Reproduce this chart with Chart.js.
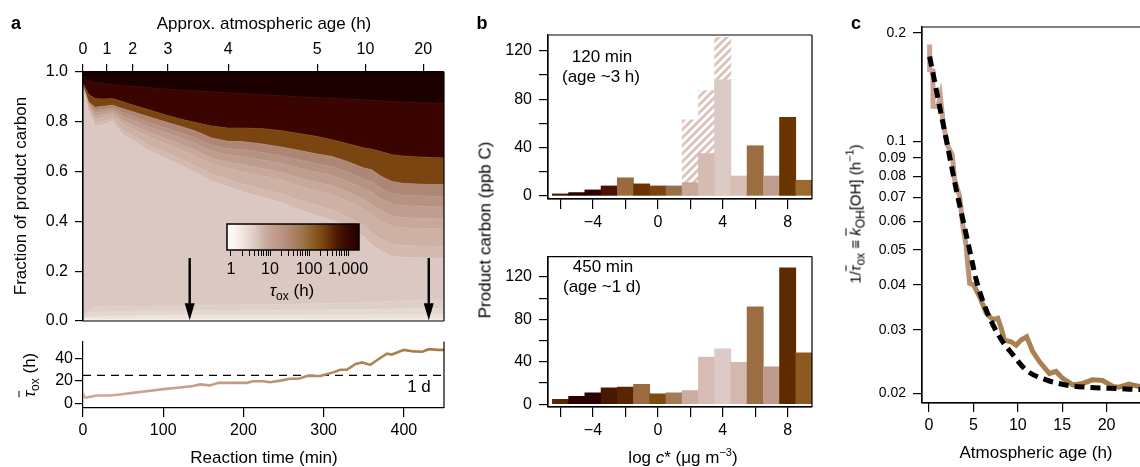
<!DOCTYPE html>
<html><head><meta charset="utf-8">
<script src="https://cdn.jsdelivr.net/npm/chart.js@4.4.1/dist/chart.umd.min.js"></script>
<style>
html,body{margin:0;padding:0;width:1140px;height:467px;overflow:hidden;background:#fff;font-family:'Liberation Sans',Arial,sans-serif;color:#000}
canvas{position:absolute}
.t{position:absolute;white-space:nowrap;transform:translate(-50%,-50%);font-size:17px;line-height:1}
.r{transform:translate(-50%,-50%) rotate(-90deg)}
.lt{position:absolute;font-weight:bold;font-size:18px;line-height:1;transform:translate(-50%,-50%)}
.sb{font-size:12px;position:relative;top:4px}
.sp{font-size:11px;position:relative;top:-7px}
.ov{font-style:italic;text-decoration:overline}
</style></head><body>
<canvas id="cA" width="460" height="340" style="left:0px;top:0px"></canvas>
<canvas id="cT" width="460" height="137" style="left:0px;top:330px"></canvas>
<canvas id="cBar" width="160" height="70" style="left:215px;top:215px"></canvas>
<canvas id="cB1" width="360" height="240" style="left:460px;top:0px"></canvas>
<canvas id="cB2" width="360" height="227" style="left:460px;top:240px"></canvas>
<canvas id="cC" width="360" height="467" style="left:820px;top:0px"></canvas>

<div class="lt" style="left:16px;top:23px">a</div>
<div class="lt" style="left:482px;top:23px">b</div>
<div class="lt" style="left:856px;top:23px">c</div>
<div class="t" style="left:264px;top:23px">Approx. atmospheric age (h)</div>
<div class="t r" style="left:20px;top:196px">Fraction of product carbon</div>
<div class="t r" style="left:29px;top:375px"><span class="ov">τ</span><span class="sb">ox</span> (h)</div>
<div class="t" style="left:264px;top:457px">Reaction time (min)</div>
<div class="t" style="left:419px;top:386px">1 d</div>
<div class="t" style="left:292px;top:290px"><i>τ</i><span class="sb">ox</span> (h)</div>
<div class="t" style="left:602px;top:56px">120 min</div>
<div class="t" style="left:601px;top:76px">(age ~3 h)</div>
<div class="t" style="left:603px;top:266px">450 min</div>
<div class="t" style="left:602px;top:286px">(age ~1 d)</div>
<div class="t r" style="left:485px;top:230px">Product carbon (ppb C)</div>
<div class="t" style="left:683px;top:457px">log <i>c</i>* (μg m<span class="sp">−3</span>)</div>
<div class="t r" style="left:855px;top:214px;font-size:15px">1/<span class="ov">τ</span><span class="sb">ox</span> ≡ <span class="ov">k</span><span class="sb">OH</span>[OH] (h<span class="sp">−1</span>)</div>
<div class="t" style="left:1036px;top:452px">Atmospheric age (h)</div>

<script>
// ---------- Panel a: stacked fractions ----------
const reactionTime = [0,3,7,15,25,37,50,60,80,100,120,140,160,180,200,225,250,265,290,310,330,350,360,372,385,400,425,450];
const bandBot1 = [0.006,0.007,0.008,0.008,0.008,0.008,0.008,0.008,0.008,0.008,0.008,0.008,0.008,0.008,0.008,0.008,0.008,0.008,0.008,0.008,0.008,0.008,0.008,0.008,0.008,0.008,0.008,0.008];
const bandBot2 = [0.010,0.012,0.014,0.016,0.018,0.019,0.020,0.020,0.021,0.021,0.022,0.022,0.022,0.022,0.023,0.023,0.023,0.023,0.024,0.024,0.024,0.024,0.025,0.025,0.025,0.025,0.025,0.025];
const bandBot3 = [0.015,0.022,0.030,0.035,0.036,0.037,0.038,0.038,0.039,0.040,0.040,0.041,0.041,0.042,0.042,0.043,0.043,0.044,0.044,0.045,0.046,0.046,0.047,0.048,0.048,0.049,0.050,0.050];
const bandBot4 = [0.025,0.035,0.045,0.055,0.057,0.058,0.059,0.060,0.060,0.061,0.062,0.063,0.063,0.064,0.065,0.066,0.067,0.068,0.069,0.070,0.071,0.073,0.075,0.077,0.079,0.081,0.083,0.085];
const bandMain = [0.930,0.905,0.842,0.782,0.790,0.802,0.748,0.730,0.688,0.658,0.628,0.595,0.562,0.540,0.517,0.495,0.473,0.452,0.425,0.406,0.375,0.340,0.305,0.280,0.260,0.255,0.253,0.252];
const bandI5 = [0.932,0.907,0.848,0.794,0.802,0.812,0.765,0.748,0.709,0.681,0.653,0.622,0.590,0.569,0.549,0.529,0.509,0.490,0.465,0.447,0.417,0.384,0.353,0.328,0.308,0.303,0.300,0.299];
const bandI4 = [0.936,0.909,0.857,0.812,0.819,0.828,0.790,0.775,0.742,0.716,0.690,0.662,0.631,0.613,0.598,0.581,0.563,0.546,0.524,0.508,0.481,0.450,0.426,0.400,0.380,0.374,0.371,0.370];
const bandI3 = [0.938,0.910,0.863,0.823,0.829,0.837,0.804,0.790,0.760,0.736,0.712,0.686,0.655,0.638,0.627,0.611,0.594,0.579,0.558,0.544,0.518,0.488,0.468,0.442,0.422,0.415,0.413,0.411];
const bandI2 = [0.941,0.912,0.869,0.835,0.840,0.847,0.821,0.808,0.782,0.759,0.737,0.713,0.683,0.667,0.659,0.646,0.630,0.617,0.598,0.585,0.561,0.532,0.516,0.490,0.470,0.463,0.460,0.458];
const bandI1 = [0.943,0.913,0.874,0.846,0.850,0.856,0.835,0.824,0.801,0.779,0.758,0.736,0.707,0.693,0.688,0.676,0.661,0.650,0.632,0.620,0.598,0.570,0.559,0.532,0.512,0.504,0.502,0.500];
const bandD3 = [0.945,0.915,0.880,0.858,0.862,0.866,0.852,0.842,0.822,0.802,0.783,0.763,0.735,0.722,0.720,0.710,0.697,0.688,0.672,0.661,0.640,0.614,0.607,0.580,0.560,0.552,0.549,0.547];
const bandD2 = [0.955,0.935,0.910,0.893,0.892,0.893,0.880,0.869,0.850,0.830,0.812,0.797,0.783,0.775,0.775,0.772,0.763,0.755,0.742,0.728,0.712,0.695,0.690,0.680,0.668,0.662,0.658,0.655];
const bandD1 = [0.985,0.970,0.965,0.958,0.955,0.950,0.945,0.943,0.938,0.933,0.928,0.925,0.921,0.918,0.914,0.909,0.905,0.902,0.898,0.895,0.892,0.889,0.887,0.885,0.883,0.880,0.877,0.875];
const bandColors = ['#f5efe6','#ede3dc','#e5d8d2','#dfcfc9','#dbc8c2','#d3bab0','#cdb1a5','#c7a89a','#bf9d8e','#b69282','#ad8676','#7a4510','#3a0500'];
const topColor = '#1c0000';
const fracTicks = [0,0.2,0.4,0.6,0.8,1.0];
const agePos = [0,30,62,106,181,292,352,424];
const ageLabels = ['0','1','2','3','4','5','10','20'];
const arrowTimes = [133,431];

// colour bar
const cbTicks = [1,2,3,4,5,6,7,8,9,10,20,30,40,50,60,70,80,90,100,200,300,400,500,600,700,800,900,1000];
const cbLabels = {1:'1',10:'10',100:'100',1000:'1,000'};
const cbStops = [[0,'#fffdf6'],[0.06,'#faf5ef'],[0.2,'#e0cec6'],[0.3,'#c9a99a'],[0.43,'#b89080'],[0.56,'#a07850'],[0.66,'#8a5a20'],[0.73,'#7a4410'],[0.84,'#4a1800'],[0.94,'#300400'],[1,'#2a0000']];

// tau panel
const tauTime = [0,2,5,17,33,46,62,79,100,121,137,146,158,169,187,204,212,225,233,246,258,267,271,279,296,308,321,329,340,348,358,371,379,385,400,412,423,431,442,450];
const tauValue = [9.0,5.1,5.1,7.0,7.0,7.9,9.3,10.7,12.7,14.1,15.5,16.9,16.0,18.3,18.3,18.3,19.7,19.7,18.9,20.3,22.0,22.0,22.5,24.5,24.5,26.8,30.1,30.1,35.2,36.6,34.4,40.8,44.5,43.7,47.9,46.5,46.2,48.5,47.9,47.9];
const oneDay = 25;

// ---------- Panel b ----------
const logCstar = [-6,-5,-4,-3,-2,-1,0,1,2,3,4,5,6,7,8,9];
const carbon120 = [1.7,2.8,5.0,8.3,15,10,8.3,8.3,11,35,96,16.5,41.5,16.5,65,13];
const carbon120Hatched = [null,null,null,null,null,null,null,null,63,87,131,null,null,null,null,null];
const colors120 = ['#4a1200','#2a0000','#2a0000','#4a1000','#9a6a3a','#6a3200','#7a4410','#9a7048','#c8a898','#d4bcb2','#dccac4','#d8beb4','#9a6e40','#c09c8c','#6a3400','#9a6a30'];
const carbon450 = [4.6,7.5,10.7,15.4,16.3,18.9,9.9,10.7,12.8,44.4,52.3,39.5,91.8,35.2,128.7,48.5];
const colors450 = ['#5a2800','#2a0000','#2a0000','#4a1800','#5a2600','#9a6a40','#7e4a10','#a47c54','#ccac9e','#d6bcb4','#dccac6','#d4b8ae','#9a6e42','#be9a8a','#5e2a00','#8c5a20'];
const bXTicks = [-6,-4,-2,0,2,4,6,8];
const bYTicks = [0,20,40,60,80,100,120];

// ---------- Panel c ----------
const ageLine = [0.07,0.07,0.45,0.45,1.0,1.27,1.65,2.13,2.62,2.88,3.45,3.82,4.19,4.38,4.57,5.02,5.69,6.44,7.19,7.75,8.13,8.5,9.25,9.81,10.37,11.0,11.69,12.43,13.56,14.3,15.06,16.18,17.3,18.4,19.55,20.7,21.4,22.5,23.7,25];
const rateLine = [0.1857,0.158,0.157,0.1251,0.125,0.1334,0.110,0.0969,0.0919,0.0784,0.0703,0.0581,0.0511,0.045,0.0404,0.040,0.0371,0.0334,0.0320,0.0323,0.0303,0.0281,0.0278,0.0272,0.0281,0.0287,0.0261,0.0245,0.0227,0.0230,0.0220,0.0211,0.0213,0.0218,0.0217,0.0209,0.0208,0.0212,0.0209,0.0209];
const ageFit = [0.07,0.82,1.57,2.32,3.07,3.82,4.57,5.32,6.44,7.94,9.44,10.94,13.2,15.4,17.7,21.4,23.7,25];
const rateFit = [0.172,0.139,0.1125,0.0909,0.0734,0.0606,0.050,0.0413,0.0341,0.0287,0.0256,0.0232,0.0218,0.0211,0.0208,0.0206,0.0205,0.0205];
const cYTicks = [0.02,0.03,0.04,0.05,0.06,0.07,0.08,0.09,0.1,0.2];
const cXTicks = [0,5,10,15,20,25];

// ---------- helpers ----------
Chart.defaults.font.family = "'Liberation Sans', Arial, sans-serif";
Chart.defaults.color = '#000';
const base = {responsive:false, animation:false, devicePixelRatio:1,
  plugins:{legend:{display:false}, tooltip:{enabled:false}}};
const pts = (xs, ys) => xs.map((x,i)=>({x:x, y:ys[i]})).filter(p=>p.y!==null);
function frame(sides){
  return {id:'frame', afterDatasetsDraw(chart){
    const c=chart.ctx, a=chart.chartArea;
    c.save(); c.strokeStyle='#000'; c.lineWidth=1.2; c.beginPath();
    if(sides.includes('t')){c.moveTo(a.left,a.top);c.lineTo(a.right,a.top);}
    if(sides.includes('r')){c.moveTo(a.right,a.top);c.lineTo(a.right,a.bottom);}
    if(sides.includes('b')){c.moveTo(a.left,a.bottom);c.lineTo(a.right,a.bottom);}
    if(sides.includes('l')){c.moveTo(a.left,a.top);c.lineTo(a.left,a.bottom);}
    c.stroke(); c.restore();
  }};
}
const tickGrid = (len)=>({drawOnChartArea:false, tickLength:len, color:'#000', lineWidth:1.2});
const setTicks = (arr)=>(s)=>{ s.ticks = arr.map(v=>({value:v})); };
const minus = (v)=> v<0 ? '\u2212'+(-v) : String(v);

// ---------- Chart A ----------
const bands = [bandBot1,bandBot2,bandBot3,bandBot4,bandMain,bandI5,bandI4,bandI3,bandI2,bandI1,bandD3,bandD2,bandD1];
const dsA = bands.map((b,i)=>({data:pts(reactionTime,b), fill: i===0?'origin':'-1',
  backgroundColor:bandColors[i], borderColor:bandColors[i], borderWidth:0.8, pointRadius:0, tension:0}));
dsA.push({data:pts(reactionTime,bandD1), fill:'end', backgroundColor:topColor, borderColor:topColor, borderWidth:0.8, pointRadius:0});
const arrowPlugin = {id:'arrows', afterDatasetsDraw(chart){
  const c=chart.ctx, x=chart.scales.x, y=chart.scales.y;
  c.save(); c.fillStyle='#000'; c.strokeStyle='#000'; c.lineWidth=2.4;
  arrowTimes.forEach(t=>{
    const px=x.getPixelForValue(t), y0=y.getPixelForValue(0.253), y1=y.getPixelForValue(0.003);
    c.beginPath(); c.moveTo(px,y0); c.lineTo(px,y1-14); c.stroke();
    c.beginPath(); c.moveTo(px-5,y1-17); c.lineTo(px+5,y1-17); c.lineTo(px,y1); c.closePath(); c.fill();
  });
  c.restore();
}};
new Chart(document.getElementById('cA'), {type:'line', data:{datasets:dsA},
  options:{...base, layout:{padding:{left:0,top:0,right:16,bottom:19}},
    scales:{
      x:{type:'linear',min:0,max:450,position:'bottom',ticks:{display:false},grid:{display:false},border:{display:false},afterFit:s=>{s.height=0;}},
      x2:{type:'linear',min:0,max:450,position:'top',afterBuildTicks:setTicks(agePos),
        ticks:{autoSkip:false,maxRotation:0,padding:5,font:{size:16},callback:(v,i)=>ageLabels[i]},
        grid:tickGrid(8),border:{color:'#000',width:1.2},afterFit:s=>{s.height=72;}},
      y:{min:0,max:1,afterBuildTicks:setTicks(fracTicks),
        ticks:{padding:7,font:{size:16},callback:v=>Number(v).toFixed(1)},
        grid:tickGrid(8),border:{color:'#000',width:1.2},afterFit:s=>{s.width=83;}}
    }},
  plugins:[frame('trbl'), arrowPlugin]});

// ---------- Colour bar ----------
const cbPlugin = {id:'cb', beforeDatasetsDraw(chart){
  const c=chart.ctx, a=chart.chartArea;
  const g=c.createLinearGradient(a.left,0,a.right,0);
  cbStops.forEach(s=>g.addColorStop(s[0],s[1]));
  c.save(); c.fillStyle=g; c.fillRect(a.left,a.top,a.right-a.left,a.bottom-a.top);
  c.strokeStyle='#000'; c.lineWidth=1.5; c.strokeRect(a.left,a.top,a.right-a.left,a.bottom-a.top); c.restore();
}};
new Chart(document.getElementById('cBar'), {type:'scatter', data:{datasets:[]},
  options:{...base, layout:{padding:{left:12,top:9,right:16,bottom:0}},
    scales:{
      x:{type:'logarithmic',min:0.79,max:1910,afterBuildTicks:setTicks(cbTicks),
        ticks:{autoSkip:false,maxRotation:0,padding:4,font:{size:16},callback:(v)=>cbLabels[Math.round(v)]||''},
        grid:{drawOnChartArea:false,tickLength:6,color:'#000',lineWidth:1},border:{display:false},afterFit:s=>{s.height=35;}},
      y:{display:false,min:0,max:1}
    }},
  plugins:[cbPlugin]});

// ---------- Tau panel ----------
new Chart(document.getElementById('cT'), {type:'line',
  data:{datasets:[
    {data:pts(tauTime,tauValue), borderWidth:2.6, pointRadius:0, tension:0,
     borderColor:(ctx)=>{const ch=ctx.chart, a=ch.chartArea; if(!a) return '#b08860';
       const g=ch.ctx.createLinearGradient(a.left,0,a.right,0);
       g.addColorStop(0,'#cfa898'); g.addColorStop(0.45,'#c09a80'); g.addColorStop(0.7,'#b08858'); g.addColorStop(1,'#a87a44'); return g;}},
    {data:[{x:0,y:oneDay},{x:450,y:oneDay}], borderColor:'#000', borderWidth:1.4, borderDash:[8,6], pointRadius:0}
  ]},
  options:{...base, layout:{padding:{left:0,top:8,right:16,bottom:0}},
    scales:{
      x:{type:'linear',min:0,max:450,afterBuildTicks:setTicks([0,100,200,300,400]),
        ticks:{autoSkip:false,maxRotation:0,padding:4,font:{size:16}},
        grid:tickGrid(9),border:{color:'#000',width:1.2},afterFit:s=>{s.height=59;}},
      y:{min:-4.26,max:55.3,afterBuildTicks:setTicks([0,20,40]),
        ticks:{padding:2,font:{size:16}},
        grid:tickGrid(8),border:{color:'#000',width:1.2},afterFit:s=>{s.width=83;}}
    }},
  plugins:[frame('r')]});

// ---------- Panel b ----------
function hatch(){
  const p=document.createElement('canvas'); p.width=8; p.height=8;
  const c=p.getContext('2d'); c.strokeStyle='#dcc4bc'; c.lineWidth=3;
  c.beginPath(); c.moveTo(-2,10); c.lineTo(10,-2); c.moveTo(-6,6); c.lineTo(6,-6); c.moveTo(2,14); c.lineTo(14,2); c.stroke();
  return c.createPattern(p,'repeat');
}
function barChart(id, vals, cols, hatchVals, yMin, yMax, padTop, xH){
  const ds=[{data:pts(logCstar,vals), backgroundColor:cols, borderWidth:0, grouped:false, order:0, barPercentage:1, categoryPercentage:1}];
  if(hatchVals) ds.push({data:pts(logCstar,hatchVals), backgroundColor:hatch(), borderWidth:0, grouped:false, order:1, barPercentage:1, categoryPercentage:1});
  new Chart(document.getElementById(id), {type:'bar', data:{datasets:ds},
    options:{...base, layout:{padding:{left:0,top:padTop,right:8,bottom:0}},
      scales:{
        x:{type:'linear',min:-6.77,max:9.5,offset:false,afterBuildTicks:setTicks(bXTicks),
          ticks:{autoSkip:false,maxRotation:0,padding:4,font:{size:16},callback:v=>(v%4===0?minus(v):'')},
          grid:{...tickGrid(10),offset:false},border:{color:'#000',width:1.2},afterFit:s=>{s.height=xH;}},
        y:{min:yMin,max:yMax,afterBuildTicks:setTicks(bYTicks),
          ticks:{padding:7,font:{size:16},callback:v=>(v%40===0?String(v):'')},
          grid:tickGrid(9),border:{color:'#000',width:1.2},afterFit:s=>{s.width=88;}}
      }},
    plugins:[frame('trbl')]});
}
barChart('cB1', carbon120, colors120, carbon120Hatched, -2.5, 133, 35, 41);
barChart('cB2', carbon450, colors450, null, -2.6, 139.3, 5, 60);

// ---------- Panel c ----------
new Chart(document.getElementById('cC'), {type:'line',
  data:{datasets:[
    {data:pts(ageFit,rateFit), borderColor:'#000', borderWidth:5, borderDash:[10,6], pointRadius:0, tension:0.35, cubicInterpolationMode:'monotone', order:0},
    {data:pts(ageLine,rateLine), borderWidth:5, pointRadius:0, tension:0, order:1,
     borderColor:(ctx)=>{const ch=ctx.chart, a=ch.chartArea; if(!a) return '#a87c4c';
       const xs=ch.scales.x; const x0=xs.getPixelForValue(0), x1=xs.getPixelForValue(25);
       const g=ch.ctx.createLinearGradient(x0,0,x1,0);
       g.addColorStop(0,'#caa596'); g.addColorStop(0.15,'#c09c88'); g.addColorStop(0.21,'#ad8456'); g.addColorStop(1,'#a67a48'); return g;}}
  ]},
  options:{...base, layout:{padding:{left:0,top:27,right:29,bottom:0}},
    scales:{
      x:{type:'linear',min:-0.79,max:25,afterBuildTicks:setTicks(cXTicks),
        ticks:{autoSkip:false,maxRotation:0,padding:4,font:{size:16}},
        grid:tickGrid(9),border:{color:'#000',width:1.2},afterFit:s=>{s.height=64;}},
      y:{type:'logarithmic',min:0.0188,max:0.2078,afterBuildTicks:setTicks(cYTicks),
        ticks:{autoSkip:false,padding:7,font:{size:14},callback:v=>String(Math.round(v*100)/100)},
        grid:tickGrid(9),border:{color:'#000',width:1.2},afterFit:s=>{s.width=102;}}
    }},
  plugins:[frame('trbl')]});
</script>
</body></html>
